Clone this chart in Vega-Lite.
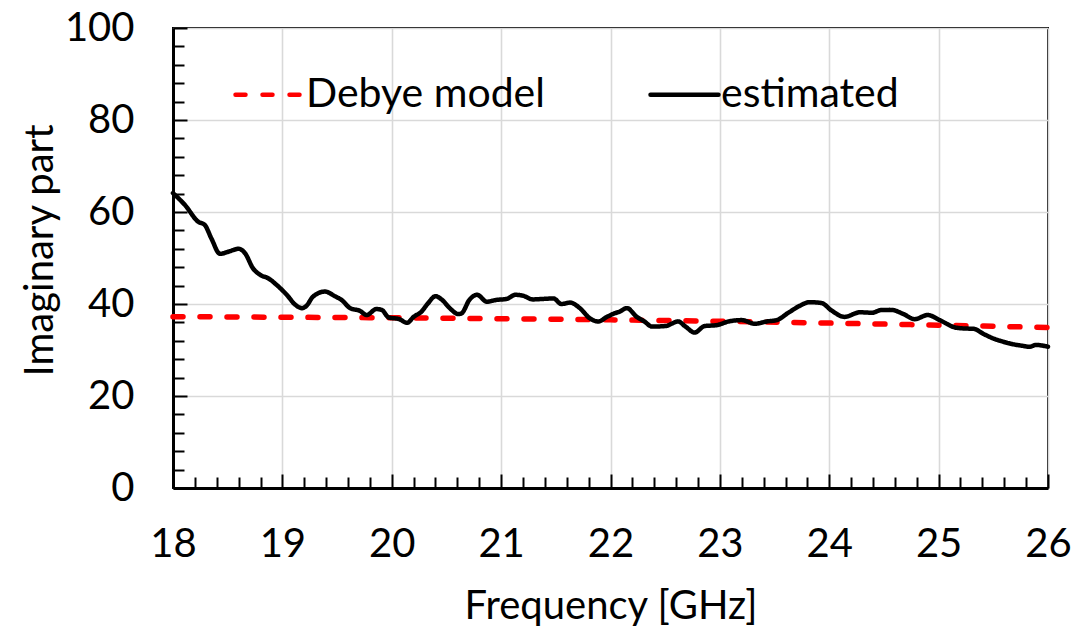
{
  "$schema": "https://vega.github.io/schema/vega-lite/v6.json",
  "width": 875,
  "height": 460,
  "autosize": {"type": "none"},
  "padding": {"left": 173, "top": 28, "right": 31, "bottom": 147},
  "background": "white",
  "config": {
    "view": {"stroke": "#000000", "strokeWidth": 2},
    "font": "Lato",
    "axis": {
      "domainColor": "#000000",
      "domainWidth": 3,
      "tickColor": "#000000",
      "tickWidth": 2,
      "gridColor": "#d9d9d9",
      "gridWidth": 1.6,
      "labelFont": "Lato",
      "labelFontSize": 40,
      "labelColor": "#000000",
      "titleFont": "Lato",
      "titleFontSize": 40,
      "titleFontWeight": "normal",
      "titleColor": "#000000",
      "labelOverlap": false,
      "labelFlush": false
    },
    "legend": {
      "orient": "none",
      "legendX": 60,
      "legendY": 30,
      "direction": "horizontal",
      "labelFont": "Lato",
      "labelFontSize": 41,
      "labelColor": "#000000",
      "labelLimit": 0,
      "symbolType": "stroke",
      "symbolSize": 4624,
      "symbolStrokeWidth": 4.5,
      "labelOffset": 0,
      "columnPadding": 96,
      "padding": 0
    }
  },
  "data": {
    "values": [
      {"f": 18.0, "v": 37.25, "series": "Debye model"},
      {"f": 19.0, "v": 37.12, "series": "Debye model"},
      {"f": 20.0, "v": 37.0, "series": "Debye model"},
      {"f": 21.0, "v": 36.8, "series": "Debye model"},
      {"f": 22.0, "v": 36.55, "series": "Debye model"},
      {"f": 23.0, "v": 36.25, "series": "Debye model"},
      {"f": 24.0, "v": 35.85, "series": "Debye model"},
      {"f": 25.0, "v": 35.4, "series": "Debye model"},
      {"f": 26.0, "v": 34.9, "series": "Debye model"},
      {"f": 18.0, "v": 64.1, "series": "estimated"},
      {"f": 18.11, "v": 61.5, "series": "estimated"},
      {"f": 18.23, "v": 57.9, "series": "estimated"},
      {"f": 18.29, "v": 57.2, "series": "estimated"},
      {"f": 18.35, "v": 54.3, "series": "estimated"},
      {"f": 18.43, "v": 50.9, "series": "estimated"},
      {"f": 18.51, "v": 51.4, "series": "estimated"},
      {"f": 18.6, "v": 52.0, "series": "estimated"},
      {"f": 18.66, "v": 51.0, "series": "estimated"},
      {"f": 18.73, "v": 47.8, "series": "estimated"},
      {"f": 18.8, "v": 46.3, "series": "estimated"},
      {"f": 18.87, "v": 45.6, "series": "estimated"},
      {"f": 18.95, "v": 44.1, "series": "estimated"},
      {"f": 19.04, "v": 42.0, "series": "estimated"},
      {"f": 19.12, "v": 39.8, "series": "estimated"},
      {"f": 19.18, "v": 39.1, "series": "estimated"},
      {"f": 19.22, "v": 39.6, "series": "estimated"},
      {"f": 19.28, "v": 41.6, "series": "estimated"},
      {"f": 19.39, "v": 42.7, "series": "estimated"},
      {"f": 19.48, "v": 41.7, "series": "estimated"},
      {"f": 19.54, "v": 40.9, "series": "estimated"},
      {"f": 19.62, "v": 39.1, "series": "estimated"},
      {"f": 19.71, "v": 38.5, "series": "estimated"},
      {"f": 19.77, "v": 37.6, "series": "estimated"},
      {"f": 19.86, "v": 38.9, "series": "estimated"},
      {"f": 19.91, "v": 38.7, "series": "estimated"},
      {"f": 19.97, "v": 37.1, "series": "estimated"},
      {"f": 20.07, "v": 36.7, "series": "estimated"},
      {"f": 20.14, "v": 35.9, "series": "estimated"},
      {"f": 20.2, "v": 37.2, "series": "estimated"},
      {"f": 20.27, "v": 38.3, "series": "estimated"},
      {"f": 20.33, "v": 40.1, "series": "estimated"},
      {"f": 20.4, "v": 41.7, "series": "estimated"},
      {"f": 20.46, "v": 40.9, "series": "estimated"},
      {"f": 20.53, "v": 39.1, "series": "estimated"},
      {"f": 20.61, "v": 37.8, "series": "estimated"},
      {"f": 20.64, "v": 38.0, "series": "estimated"},
      {"f": 20.71, "v": 40.9, "series": "estimated"},
      {"f": 20.78, "v": 42.0, "series": "estimated"},
      {"f": 20.87, "v": 40.5, "series": "estimated"},
      {"f": 20.96, "v": 40.9, "series": "estimated"},
      {"f": 21.05, "v": 41.1, "series": "estimated"},
      {"f": 21.13, "v": 42.0, "series": "estimated"},
      {"f": 21.2, "v": 41.8, "series": "estimated"},
      {"f": 21.29, "v": 41.0, "series": "estimated"},
      {"f": 21.38, "v": 41.1, "series": "estimated"},
      {"f": 21.48, "v": 41.2, "series": "estimated"},
      {"f": 21.55, "v": 40.0, "series": "estimated"},
      {"f": 21.63, "v": 40.3, "series": "estimated"},
      {"f": 21.72, "v": 39.1, "series": "estimated"},
      {"f": 21.81, "v": 36.9, "series": "estimated"},
      {"f": 21.89, "v": 36.2, "series": "estimated"},
      {"f": 21.96, "v": 37.1, "series": "estimated"},
      {"f": 22.04, "v": 38.0, "series": "estimated"},
      {"f": 22.08, "v": 38.3, "series": "estimated"},
      {"f": 22.15, "v": 39.1, "series": "estimated"},
      {"f": 22.24, "v": 37.2, "series": "estimated"},
      {"f": 22.31, "v": 36.2, "series": "estimated"},
      {"f": 22.38, "v": 35.1, "series": "estimated"},
      {"f": 22.5, "v": 35.2, "series": "estimated"},
      {"f": 22.62, "v": 36.2, "series": "estimated"},
      {"f": 22.68, "v": 35.2, "series": "estimated"},
      {"f": 22.77, "v": 33.8, "series": "estimated"},
      {"f": 22.86, "v": 35.2, "series": "estimated"},
      {"f": 22.97, "v": 35.4, "series": "estimated"},
      {"f": 23.08, "v": 36.2, "series": "estimated"},
      {"f": 23.2, "v": 36.5, "series": "estimated"},
      {"f": 23.32, "v": 35.7, "series": "estimated"},
      {"f": 23.43, "v": 36.2, "series": "estimated"},
      {"f": 23.52, "v": 36.5, "series": "estimated"},
      {"f": 23.62, "v": 38.0, "series": "estimated"},
      {"f": 23.73, "v": 39.6, "series": "estimated"},
      {"f": 23.82, "v": 40.4, "series": "estimated"},
      {"f": 23.93, "v": 40.2, "series": "estimated"},
      {"f": 24.02, "v": 38.6, "series": "estimated"},
      {"f": 24.14, "v": 37.2, "series": "estimated"},
      {"f": 24.28, "v": 38.2, "series": "estimated"},
      {"f": 24.39, "v": 38.1, "series": "estimated"},
      {"f": 24.48, "v": 38.7, "series": "estimated"},
      {"f": 24.57, "v": 38.7, "series": "estimated"},
      {"f": 24.68, "v": 37.8, "series": "estimated"},
      {"f": 24.78, "v": 36.7, "series": "estimated"},
      {"f": 24.9, "v": 37.6, "series": "estimated"},
      {"f": 25.01, "v": 36.5, "series": "estimated"},
      {"f": 25.15, "v": 34.9, "series": "estimated"},
      {"f": 25.22, "v": 34.7, "series": "estimated"},
      {"f": 25.32, "v": 34.6, "series": "estimated"},
      {"f": 25.41, "v": 33.5, "series": "estimated"},
      {"f": 25.5, "v": 32.5, "series": "estimated"},
      {"f": 25.59, "v": 31.8, "series": "estimated"},
      {"f": 25.67, "v": 31.3, "series": "estimated"},
      {"f": 25.77, "v": 30.9, "series": "estimated"},
      {"f": 25.83, "v": 30.7, "series": "estimated"},
      {"f": 25.89, "v": 31.1, "series": "estimated"},
      {"f": 26.0, "v": 30.7, "series": "estimated"}
    ]
  },
  "encoding": {
    "x": {
      "field": "f",
      "type": "quantitative",
      "scale": {"domain": [18, 26], "nice": false, "zero": false},
      "axis": {
        "title": "Frequency [GHz]",
        "values": [18, 18.2, 18.4, 18.6, 18.8, 19, 19.2, 19.4, 19.6, 19.8, 20, 20.2, 20.4, 20.6, 20.8, 21, 21.2, 21.4, 21.6, 21.8, 22, 22.2, 22.4, 22.6, 22.8, 23, 23.2, 23.4, 23.6, 23.8, 24, 24.2, 24.4, 24.6, 24.8, 25, 25.2, 25.4, 25.6, 25.8, 26],
        "labelExpr": "abs(datum.value - round(datum.value)) < 0.01 ? format(datum.value, 'd') : ''",
        "gridOpacity": {"condition": {"test": "abs(datum.value - round(datum.value)) < 0.01", "value": 1}, "value": 0},
        "tickSize": {"condition": {"test": "abs(datum.value - round(datum.value)) < 0.01", "value": -14}, "value": -11},
        "labelPadding": 50,
        "titleY": 130,
        "titleBaseline": "alphabetic"
      }
    },
    "y": {
      "field": "v",
      "type": "quantitative",
      "scale": {"domain": [0, 100], "nice": false},
      "axis": {
        "title": "Imaginary part",
        "values": [0, 4, 8, 12, 16, 20, 24, 28, 32, 36, 40, 44, 48, 52, 56, 60, 64, 68, 72, 76, 80, 84, 88, 92, 96, 100],
        "labelExpr": "datum.value % 20 === 0 ? datum.label : ''",
        "gridOpacity": {"condition": {"test": "datum.value % 20 === 0", "value": 1}, "value": 0},
        "tickSize": {"condition": {"test": "datum.value % 20 === 0", "value": -14}, "value": -11},
        "labelPadding": 53,
        "titleX": -121,
        "titleY": 222,
        "titleBaseline": "alphabetic"
      }
    },
    "color": {
      "field": "series",
      "type": "nominal",
      "scale": {"domain": ["Debye model", "estimated"], "range": ["#ff0000", "#000000"]},
      "legend": {
        "title": null,
        "encode": {"symbols": {"update": {"strokeCap": {"value": "round"}}}}
      }
    },
    "strokeDash": {
      "field": "series",
      "type": "nominal",
      "scale": {"domain": ["Debye model", "estimated"], "range": [[10, 17], [1, 0]]},
      "legend": {"title": null}
    }
  },
  "layer": [
    {
      "transform": [{"filter": "datum.series === 'Debye model'"}],
      "mark": {"type": "line", "strokeWidth": 5.5, "strokeCap": "round", "interpolate": "monotone"}
    },
    {
      "transform": [{"filter": "datum.series === 'estimated'"}],
      "mark": {"type": "line", "strokeWidth": 4.5, "strokeCap": "round", "strokeJoin": "round", "interpolate": "monotone"}
    }
  ]
}
